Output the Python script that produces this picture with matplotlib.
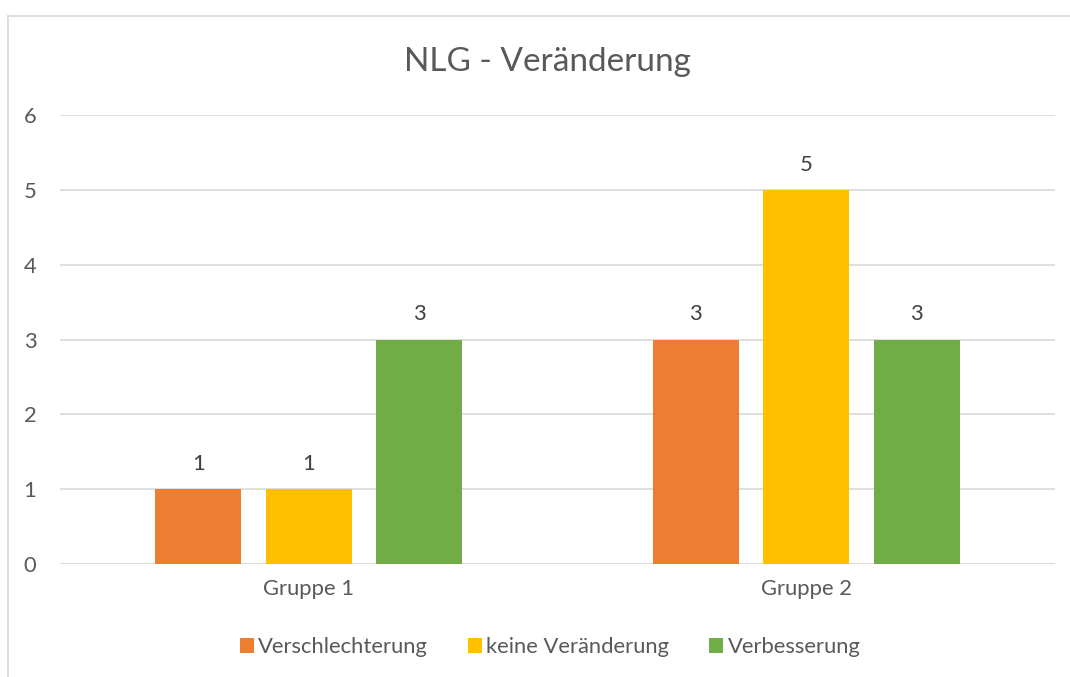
import matplotlib
matplotlib.use("Agg")
import matplotlib.pyplot as plt
from matplotlib.lines import Line2D
from matplotlib.patches import Patch
import numpy as np

categories = ["Gruppe 1", "Gruppe 2"]
series_names = ["Verschlechterung", "keine Veränderung", "Verbesserung"]
verschlechterung = [1, 3]
keine_veraenderung = [1, 5]
verbesserung = [3, 3]
yticks = [0, 1, 2, 3, 4, 5, 6]
title = "NLG - Veränderung"

colors = ["#ED7D31", "#FFC000", "#70AD47"]
text_color = "#595959"
plt.rcParams["font.family"] = ["Lato", "DejaVu Sans"]

fig = plt.figure(figsize=(10.7, 6.77), dpi=100)
ax = fig.add_axes([60/1070, 1-564/677, 995/1070, 449/677])

x = np.arange(len(categories))
offsets = [-0.222, 0.0, 0.222]
width = 0.173
series = [verschlechterung, keine_veraenderung, verbesserung]
fs = 15.8
for vals, off, col, name in zip(series, offsets, colors, series_names):
    bars = ax.bar(x + off, vals, width=width, color=col, label=name, zorder=3)
    for b, v in zip(bars, vals):
        ax.annotate(str(v), (b.get_x() + b.get_width()/2, v), xytext=(0, 18),
                    textcoords="offset points", ha="center", va="center",
                    fontsize=fs, color="#404040")

ax.set_xlim(-0.5, 1.5)
ax.set_ylim(0, 6)
ax.set_yticks(yticks)
ax.set_xticks(x)
ax.set_xticklabels(categories)
ax.yaxis.grid(True, color="#D9D9D9", linewidth=1.2, zorder=0)
for s in ax.spines.values():
    s.set_visible(False)
ax.axhline(0, color="#D9D9D9", linewidth=1.2, zorder=1)
ax.tick_params(axis="both", length=0, labelsize=fs, labelcolor=text_color)
ax.tick_params(axis="y", pad=17)
ax.tick_params(axis="x", pad=11)

fig.text(547/1070, 1-62/677, title, ha="center", va="center", fontsize=24, color=text_color)

handles = [Patch(facecolor=c, edgecolor="none") for c in colors]
fig.legend(handles, series_names, loc="center", bbox_to_anchor=(550/1070, 1-647/677),
           ncol=3, frameon=False, fontsize=fs, labelcolor=text_color,
           handlelength=0.65, handleheight=0.65, handletextpad=0.2, columnspacing=1.8)

# chart frame border
fig.add_artist(Line2D([8/1070, 8/1070], [0, 1-16/677], color="#D9D9D9", linewidth=1.2))
fig.add_artist(Line2D([8/1070, 1], [1-16/677, 1-16/677], color="#D9D9D9", linewidth=1.2))

fig.savefig("out.png", dpi=100, facecolor="white")
